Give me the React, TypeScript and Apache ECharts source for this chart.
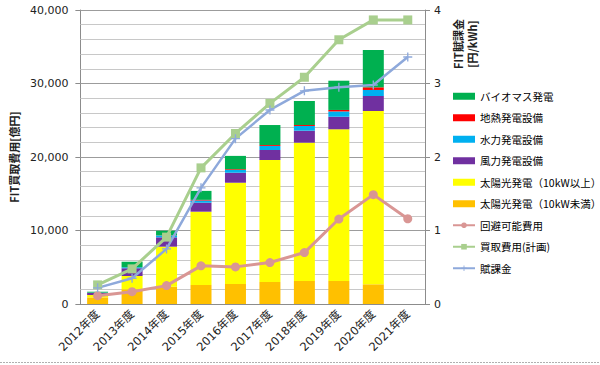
import React, { useEffect, useRef } from "react";
import * as echarts from "echarts";

const categories = ["2012年度", "2013年度", "2014年度", "2015年度", "2016年度", "2017年度", "2018年度", "2019年度", "2020年度", "2021年度"];
const solarSmall = [900, 2000, 2350, 2590, 2720, 3000, 3130, 3130, 2680, null];
const solarLarge = [320, 1810, 5450, 9970, 13780, 16590, 18820, 20640, 23580, null];
const wind = [300, 1050, 1270, 1220, 1360, 1360, 1630, 1710, 2040, null];
const hydro = [30, 130, 250, 300, 380, 560, 640, 720, 820, null];
const geothermal = [0, 10, 20, 90, 100, 120, 130, 200, 360, null];
const biomass = [120, 760, 630, 1220, 1810, 2720, 3270, 3980, 5080, null];
const avoidedCost = [1130, 1680, 2500, 5190, 5050, 5640, 7000, 11560, 14880, 11600];
const plannedCost = [2600, 4780, 9100, 18520, 23200, 27300, 30850, 35950, 38650, 38650];
const levy = [0.22, 0.35, 0.75, 1.58, 2.25, 2.64, 2.9, 2.95, 2.98, 3.36];
const leftTicks = { min: 0, max: 40000, interval: 10000 };
const minorStep = 2000;
const rightTicks = { min: 0, max: 4, interval: 1 };

const FONT = "'DejaVu Sans', 'Noto Sans CJK JP', sans-serif";
const CJK = "'Noto Sans CJK JP', 'DejaVu Sans', sans-serif";

export default function App() {
  const ref = useRef<HTMLDivElement>(null);
  useEffect(() => {
    const chart = echarts.init(ref.current!, null, { renderer: "svg" });
    const bar = (name: string, data: (number | null)[], color: string) => ({
      name,
      type: "bar",
      stack: "fit",
      data,
      barWidth: 21,
      itemStyle: { color },
      yAxisIndex: 0,
      z: 3,
    });
    const gridData: any[] = [];
    for (let v = leftTicks.min + minorStep; v <= leftTicks.max; v += minorStep) {
      const major = v % leftTicks.interval === 0;
      gridData.push({ yAxis: v, lineStyle: { color: major ? "#9c9c9c" : "#c8c8c8", width: 1, type: "solid" } });
    }
    chart.setOption({
      animation: false,
      backgroundColor: "#ffffff",
      textStyle: { fontFamily: FONT },
      grid: { left: 67, right: 175, top: 10, bottom: 61, containLabel: false },
      legend: {
        orient: "vertical",
        left: 452,
        top: 91,
        padding: 0,
        itemWidth: 22,
        itemHeight: 7,
        itemGap: 11,
        textStyle: { fontFamily: CJK, fontSize: 10.5, color: "#000" },
        data: [
          { name: "バイオマス発電", icon: "rect" },
          { name: "地熱発電設備", icon: "rect" },
          { name: "水力発電設備", icon: "rect" },
          { name: "風力発電設備", icon: "rect" },
          { name: "太陽光発電（10kW以上）", icon: "rect" },
          { name: "太陽光発電（10kW未満）", icon: "rect" },
          { name: "回避可能費用" },
          { name: "買取費用(計画)" },
          { name: "賦課金" },
        ],
      },
      xAxis: {
        type: "category",
        data: categories,
        axisLine: { lineStyle: { color: "#8c8c8c", width: 1 } },
        axisTick: { show: false },
        axisLabel: { rotate: 45, fontSize: 11.5, color: "#222", fontFamily: FONT, margin: 8, interval: 0 },
      },
      yAxis: [
        {
          type: "value",
          ...leftTicks,
          name: "FIT買取費用[億円]",
          nameLocation: "middle",
          nameRotate: 90,
          nameGap: 58,
          nameTextStyle: { fontFamily: CJK, fontSize: 11, fontWeight: "bold", color: "#222" },
          axisLine: { show: true, lineStyle: { color: "#8c8c8c" } },
          axisTick: { show: true, length: 5, lineStyle: { color: "#8c8c8c" } },
          axisLabel: {
            fontSize: 11,
            color: "#222",
            margin: 12,
            formatter: (v: number) => v.toLocaleString("en-US"),
          },
          splitLine: { show: false },
        },
        {
          type: "value",
          ...rightTicks,
          position: "right",
          axisLine: { show: true, lineStyle: { color: "#8c8c8c" } },
          axisTick: { show: true, length: 5, lineStyle: { color: "#8c8c8c" } },
          axisLabel: { fontSize: 11, color: "#222", margin: 9 },
          splitLine: { show: false },
        },
      ],
      graphic: [
        {
          type: "text",
          x: 465,
          y: 44,
          rotation: Math.PI / 2,
          style: {
            text: "FIT賦課金\n[円/kWh]",
            fontFamily: CJK,
            fontSize: 11,
            fontWeight: "bold",
            fill: "#222",
            align: "center",
            verticalAlign: "middle",
            lineHeight: 14,
          },
        },
        {
          type: "line",
          shape: { x1: 0, y1: 362.5, x2: 600, y2: 362.5 },
          style: { stroke: "#b0b0b0", lineWidth: 1, lineDash: [2, 1] },
        },
      ],
      series: [
        {
          name: "grid",
          type: "line",
          data: categories.map(() => null),
          yAxisIndex: 0,
          z: 1,
          silent: true,
          symbol: "none",
          markLine: {
            z: 1,
            silent: true,
            symbol: ["none", "none"],
            label: { show: false },
            emphasis: { disabled: true },
            animation: false,
            data: gridData,
          },
        },
        bar("太陽光発電（10kW未満）", solarSmall, "#FFC000"),
        bar("太陽光発電（10kW以上）", solarLarge, "#FFFF00"),
        bar("風力発電設備", wind, "#7030A0"),
        bar("水力発電設備", hydro, "#00B0F0"),
        bar("地熱発電設備", geothermal, "#FF0000"),
        bar("バイオマス発電", biomass, "#00B050"),
        {
          name: "回避可能費用",
          type: "line",
          data: avoidedCost,
          yAxisIndex: 0,
          z: 4,
          symbol: "circle",
          symbolSize: 9,
          itemStyle: { color: "#D99694" },
          lineStyle: { color: "#D99694", width: 3 },
        },
        {
          name: "買取費用(計画)",
          type: "line",
          data: plannedCost,
          yAxisIndex: 0,
          z: 4,
          symbol: "rect",
          symbolSize: 9,
          itemStyle: { color: "#A9CF8E" },
          lineStyle: { color: "#A9CF8E", width: 3 },
        },
        {
          name: "賦課金",
          type: "line",
          data: levy,
          yAxisIndex: 1,
          z: 4,
          symbol: "path://M3.4,0h1.2v3.4h3.4v1.2h-3.4v3.4h-1.2v-3.4h-3.4v-1.2h3.4z",
          symbolSize: 9,
          itemStyle: { color: "#8EA9DB" },
          lineStyle: { color: "#8EA9DB", width: 2.5 },
        },
      ],
    });
    return () => chart.dispose();
  }, []);
  return <div ref={ref} style={{ position: "absolute", left: 0, top: 0, width: 600, height: 365 }} />;
}
